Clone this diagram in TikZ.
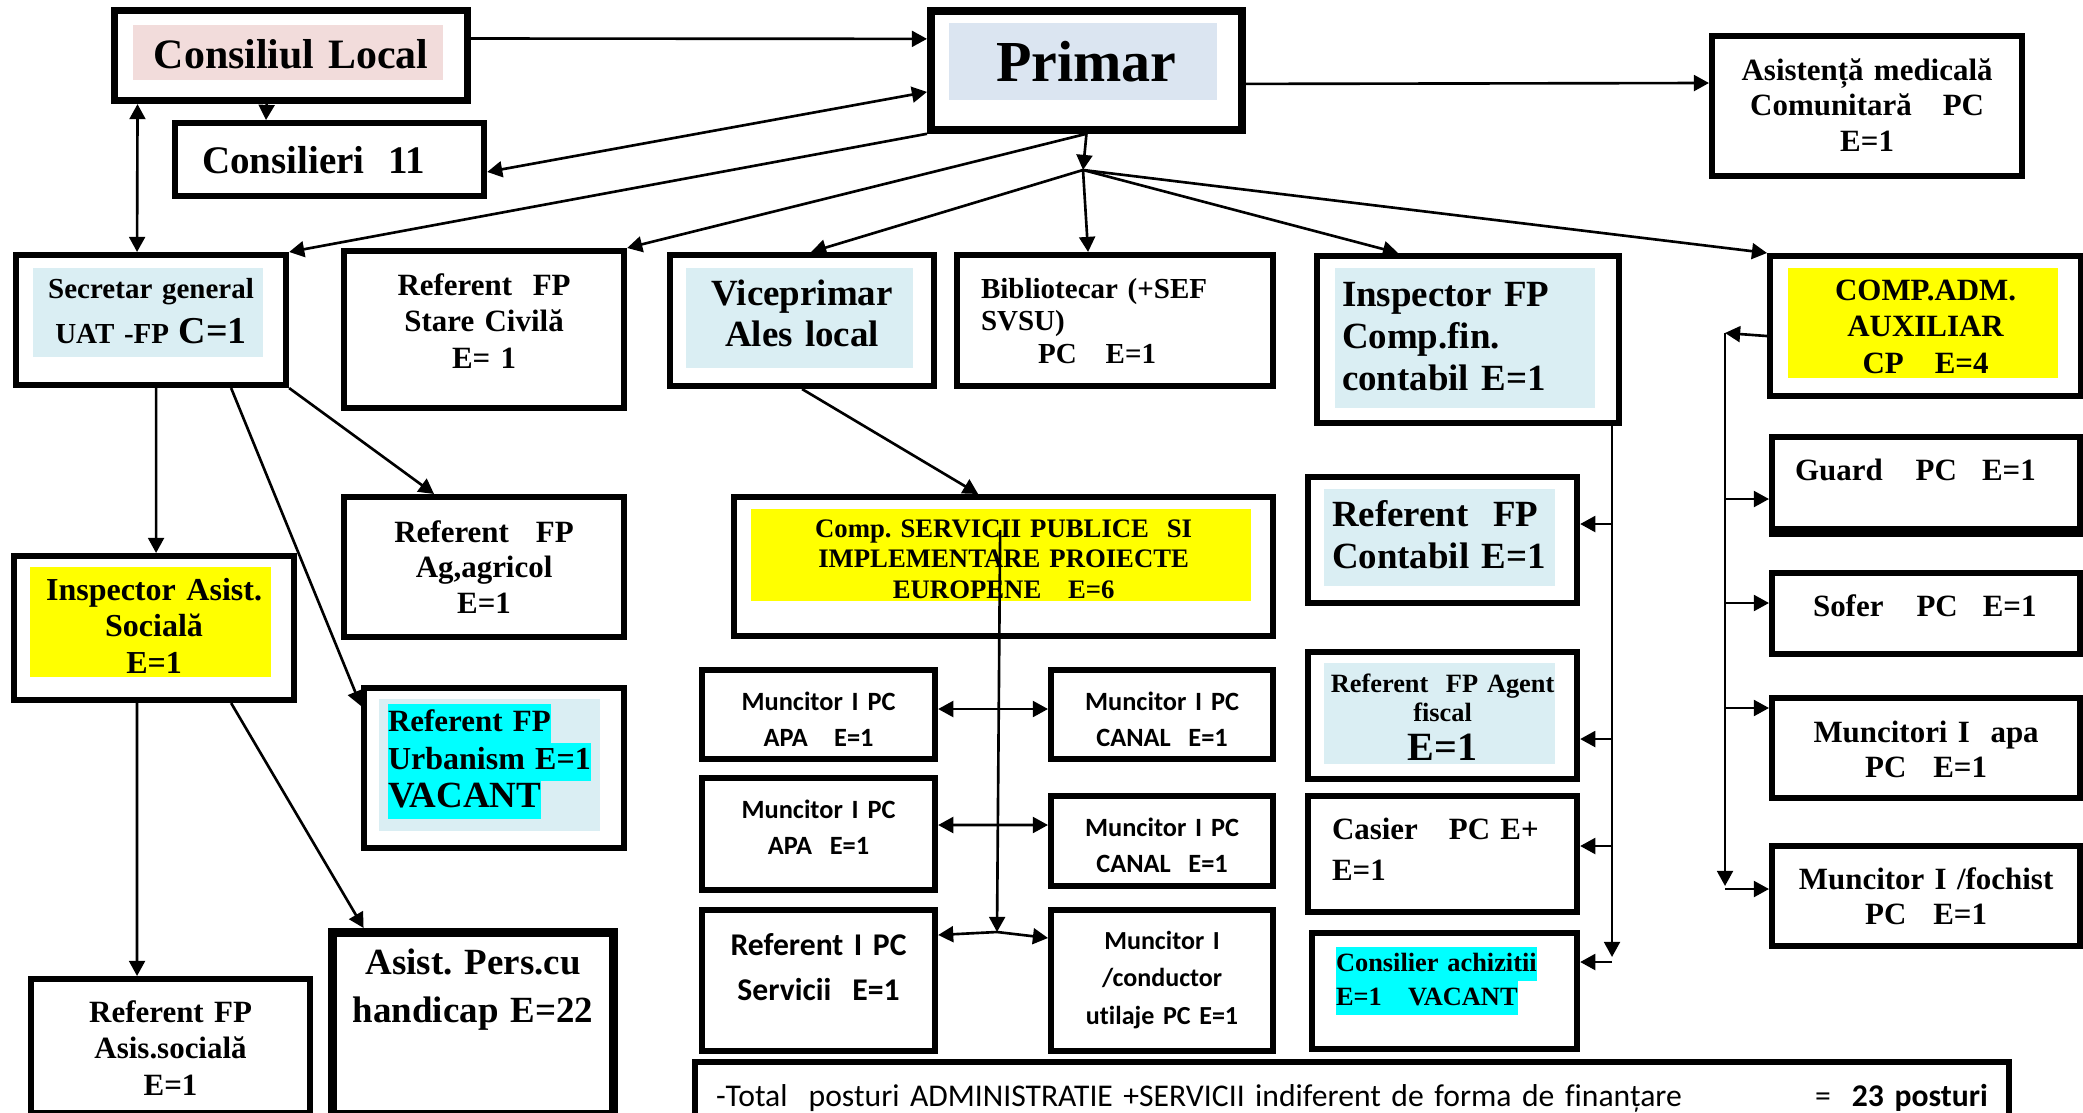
\documentclass[tikz,border=0pt]{standalone}
\usepackage{fontspec}
\setmainfont{Liberation Serif}
\newfontfamily\calfont[Ligatures=NoCommon]{Carlito}
\usetikzlibrary{arrows.meta}
\definecolor{pinkbg}{HTML}{F2DCDB}
\definecolor{primbg}{HTML}{DBE5F1}
\definecolor{bluebg}{HTML}{DAEEF3}
\definecolor{hlyellow}{HTML}{FFFF00}
\definecolor{hlcyan}{HTML}{00FFFF}
\setlength{\fboxsep}{0pt}
\frenchspacing
\newcommand{\fsz}[2]{\fontsize{#1}{#2}\selectfont}

\begin{document}
\begin{tikzpicture}[x=0.01cm,y=0.01cm]
\tikzstyle{box}=[draw=black, line width=1.7pt, inner xsep=0pt, inner ysep=0pt, anchor=north west, align=center]
\tikzstyle{arr}=[line width=0.75pt, -{Triangle[length=4.3pt,width=4.5pt]}]
\tikzstyle{dbl}=[line width=0.75pt, {Triangle[length=4.3pt,width=4.5pt]}-{Triangle[length=4.3pt,width=4.5pt]}]
\useasboundingbox (0,0) rectangle (2083,-1113);
% inner fills
\fill [pinkbg] (133,-25) rectangle (443,-80);
\fill [primbg] (949,-23) rectangle (1217,-100);
\fill [bluebg] (33,-268) rectangle (263,-357);
\fill [bluebg] (686,-268) rectangle (913,-368);
\fill [bluebg] (1335,-268) rectangle (1595,-408);
\fill [hlyellow] (1788,-268) rectangle (2058,-378);
\fill [hlyellow] (30,-567) rectangle (271,-677);
\fill [bluebg] (379,-699) rectangle (600,-831);
\fill [hlyellow] (751,-509) rectangle (1251,-601);
\fill [bluebg] (1324,-489) rectangle (1555,-586);
\fill [bluebg] (1324,-663) rectangle (1555,-764);
% top row
\node [box, line width=2pt, text width=3.53cm, text height=0.58cm, text depth=0.32cm, font={\bfseries\fsz{11.9pt}{14pt}}] (cl) at (111,-7) {Consiliul Local};
\node [box, align=left, inner xsep=0.27cm, text width=2.55cm, text height=0.50cm, text depth=0.23cm, font={\bfseries\fsz{11.1pt}{13pt}}] (cons) at (172,-120) {Consilieri\hspace{0.235cm}11};
\node [box, line width=2.2pt, text width=3.11cm, text height=0.71cm, text depth=0.48cm, font={\bfseries\fsz{16.5pt}{19pt}}] (prim) at (927,-7) {Primar};
\node [box, text width=3.10cm, text height=0.44cm, text depth=0.96cm, font={\bfseries\fsz{8.8pt}{10.2pt}}] (asis) at (1709,-33) {Asistență medicală\\Comunitară\quad PC\\E=1};
% second row
\node [box, text width=2.70cm, text height=0.43cm, text depth=0.87cm, font={\bfseries\fsz{8.25pt}{12.8pt}}] (sec) at (13,-252) {Secretar general\\UAT -FP {\fsz{10.8pt}{12.8pt}C=1}};
\node [box, text width=2.80cm, text height=0.44cm, text depth=1.13cm, font={\bfseries\fsz{8.8pt}{10.4pt}}] (stc) at (341,-248) {Referent\ \ FP\\Stare Civilă\\E= 1};
\node [box, text width=2.64cm, text height=0.50cm, text depth=0.81cm, font={\bfseries\fsz{10.5pt}{11.7pt}}] (vice) at (667,-252) {Viceprimar\\Ales local};
\node [box, align=left, inner xsep=0.24cm, text width=2.68cm, text height=0.43cm, text depth=0.88cm, font={\bfseries\fsz{8.25pt}{9.25pt}}] (bib) at (954,-252) {Bibliotecar (+SEF\\SVSU)\\\hspace*{0.57cm}PC\quad E=1};
\node [box, align=left, inner xsep=0.25cm, text width=2.52cm, text height=0.50cm, text depth=1.17cm, font={\bfseries\fsz{10.5pt}{12pt}}] (insp) at (1314,-253) {Inspector FP\\Comp.fin.\\contabil E=1};
\node [box, text width=3.11cm, text height=0.44cm, text depth=0.96cm, font={\bfseries\fsz{8.8pt}{10.4pt}}] (comp) at (1767,-253) {COMP.ADM.\\AUXILIAR\\CP\quad E=4};
% left branch
\node [box, text width=2.80cm, text height=0.45cm, text depth=0.95cm, font={\bfseries\fsz{8.8pt}{10.2pt}}] (agr) at (341,-494) {Referent\hspace{0.27cm}FP\\Ag,agricol\\E=1};
\node [box, text width=2.80cm, text height=0.44cm, text depth=1.00cm, font={\bfseries\fsz{9.1pt}{10.4pt}}] (asoc) at (11,-553) {Inspector Asist.\\Socială\\E=1};
\node [box, align=left, inner xsep=0.24cm, text width=2.12cm, text height=0.43cm, text depth=1.17cm, font={\bfseries\fsz{8.8pt}{10.9pt}}] (urb) at (361,-685) {\colorbox{hlcyan}{\strut Referent FP}\\\colorbox{hlcyan}{\fsz{9.1pt}{10.9pt}\strut Urbanism E=1}\\\colorbox{hlcyan}{\fsz{10.5pt}{10.9pt}\strut VACANT}};
\node [box, line width=2.6pt, text width=2.81cm, text height=0.42cm, text depth=1.40cm, font={\bfseries\fsz{10.5pt}{13.6pt}}] (apers) at (328,-928) {Asist. Pers.cu\\handicap E=22};
\node [box, text width=2.79cm, text height=0.43cm, text depth=0.91cm, font={\bfseries\fsz{8.8pt}{10.5pt}}] (rasoc) at (28,-976) {Referent FP\\Asis.socială\\E=1};
% public services
\node [box, text width=5.39cm, text height=0.40cm, text depth=0.99cm, font={\bfseries\fsz{7.6pt}{8.8pt}}] (spub) at (731,-494) {Comp. SERVICII PUBLICE\ \ SI\\IMPLEMENTARE PROIECTE\\EUROPENE\ \ \ E=6};
\node [box, text width=2.33cm, text height=0.40cm, text depth=0.49cm, font={\calfont\bfseries\fsz{7.5pt}{10.5pt}}] (apa1) at (699,-667) {Muncitor I PC\\APA\ \ \ E=1};
\node [box, text width=2.22cm, text height=0.40cm, text depth=0.49cm, font={\calfont\bfseries\fsz{7.5pt}{10.5pt}}] (can1) at (1048,-667) {Muncitor I PC\\CANAL\ \ E=1};
\node [box, text width=2.33cm, text height=0.40cm, text depth=0.72cm, font={\calfont\bfseries\fsz{7.5pt}{10.5pt}}] (apa2) at (699,-775) {Muncitor I PC\\APA\ \ E=1};
\node [box, text width=2.22cm, text height=0.40cm, text depth=0.50cm, font={\calfont\bfseries\fsz{7.5pt}{10.5pt}}] (can2) at (1048,-793) {Muncitor I PC\\CANAL\ \ E=1};
\node [box, text width=2.33cm, text height=0.45cm, text depth=0.96cm, font={\calfont\bfseries\fsz{9pt}{12.8pt}}] (refI) at (699,-907) {Referent I PC\\Servicii\ \ E=1};
\node [box, text width=2.22cm, text height=0.39cm, text depth=1.02cm, font={\calfont\bfseries\fsz{7.4pt}{10.7pt}}] (cond) at (1048,-907) {Muncitor I\\/conductor\\utilaje PC E=1};
% financial column
\node [box, align=left, inner xsep=0.24cm, text width=2.21cm, text height=0.49cm, text depth=0.77cm, font={\bfseries\fsz{10.5pt}{12.2pt}}] (rcont) at (1305,-474) {Referent\ \ FP\\Contabil E=1};
\node [box, text width=2.69cm, text height=0.40cm, text depth=0.87cm, font={\bfseries\fsz{7.5pt}{8.25pt}}] (agf) at (1305,-649) {Referent\ \ FP Agent\\fiscal\\[2.85pt]{\fsz{11.4pt}{11pt}E=1}};
\node [box, align=left, inner xsep=0.24cm, text width=2.21cm, text height=0.43cm, text depth=0.73cm, font={\bfseries\fsz{8.8pt}{11.7pt}}] (cas) at (1305,-793) {Casier\ \ \ PC E+\\E=1};
\node [box, align=left, inner xsep=0.24cm, text width=2.17cm, text height=0.38cm, text depth=0.78cm, font={\bfseries\fsz{7.5pt}{9.7pt}}] (achiz) at (1309,-930) {\colorbox{hlcyan}{\strut Consilier achizitii}\\\colorbox{hlcyan}{\strut E=1\ \ \ VACANT}};
% auxiliary column
\node [box, align=left, inner xsep=0.23cm, text width=2.62cm, text height=0.43cm, text depth=0.49cm, font={\bfseries\fsz{8.8pt}{10.2pt}}] (guard) at (1769,-434) {Guard\hspace{0.33cm}PC\hspace{0.25cm}E=1};
\node [box, align=left, inner xsep=0.23cm, text width=2.62cm, text height=0.43cm, text depth=0.38cm, font={\bfseries\fsz{8.8pt}{10.2pt}}] (sofer) at (1769,-570) {\hspace*{0.18cm}Sofer\hspace{0.33cm}PC\hspace{0.25cm}E=1};
\node [box, text width=3.08cm, text height=0.44cm, text depth=0.56cm, font={\bfseries\fsz{8.8pt}{10.2pt}}] (mapa) at (1769,-695) {Muncitori I\ \ apa\\PC\hspace{0.27cm}E=1};
\node [box, text width=3.08cm, text height=0.43cm, text depth=0.57cm, font={\bfseries\fsz{8.8pt}{10.2pt}}] (foch) at (1769,-843) {Muncitor I /fochist\\PC\hspace{0.27cm}E=1};
\draw [line width=3pt] (guard.south west) -- (guard.south east);
% total
\node [box, align=left, inner xsep=0.21cm, text width=12.71cm, text height=0.44cm, text depth=0.45cm, font={\calfont\fsz{9pt}{11pt}}] (total) at (692,-1059) {-Total\ \ posturi ADMINISTRATIE +SERVICII indiferent de forma de finanțare\hfill=\ \ \textbf{23 posturi}\hspace*{0.36cm}};
% connectors from the top
\coordinate (jct) at (1083,-170);
\draw [arr] ([yshift=0.17cm]cl.east) -- ([yshift=0.315cm]prim.west);
\draw [arr] ([xshift=-0.245cm]cl.south) -- ([xshift=-0.635cm]cons.north);
\draw [dbl] ([xshift=-1.535cm]cl.south) -- ([xshift=-0.14cm]sec.north);
\draw [dbl] ([yshift=-0.125cm]cons.east) -- ([yshift=-0.215cm]prim.west);
\draw [arr] (prim.south west) -- (sec.north east);
\draw [arr] (prim.south) -- (stc.north east);
\draw [arr] (prim.south) -- (jct);
\draw [arr] (jct) -- ([xshift=0.09cm]vice.north);
\draw [arr] (jct) -- ([xshift=-0.27cm]bib.north);
\draw [arr] (jct) -- ([xshift=-0.70cm]insp.north);
\draw [arr] (jct) -- (comp.north west);
\draw [arr] ([yshift=-0.135cm]prim.east) -- ([yshift=0.23cm]asis.west);
% secretar
\draw [arr] ([xshift=0.05cm]sec.south) -- ([xshift=0.02cm]asoc.north);
\draw [arr] ([xshift=0.80cm]sec.south) -- ([yshift=0.62cm]urb.west);
\draw [arr] (sec.south east) -- ([xshift=-0.50cm]agr.north);
\draw [arr] ([xshift=-0.17cm]asoc.south) -- ([xshift=-0.335cm]rasoc.north);
\draw [arr] ([xshift=0.77cm]asoc.south) -- ([xshift=-1.095cm]apers.north);
% viceprimar and services
\coordinate (sv) at (997,-932);
\draw [arr] (vice.south) -- ([xshift=-0.255cm]spub.north);
\draw [arr] ([xshift=-0.035cm,yshift=-0.36cm]spub.north) -- (sv);
\draw [dbl] ([yshift=0.055cm]apa1.east) -- ([yshift=0.055cm]can1.west);
\draw [dbl] ([yshift=0.09cm]apa2.east) -- ([yshift=0.16cm]can2.west);
\draw [arr] (sv) -- ([yshift=0.455cm]refI.east);
\draw [arr] (sv) -- ([yshift=0.425cm]cond.west);
% auxiliary
\coordinate (rt) at (1725,-333);
\coordinate (rb) at (1725,-886);
\draw [arr] ([yshift=-0.10cm]comp.west) -- (rt);
\draw [arr] (rt) -- (rb);
\coordinate (g1) at ([yshift=-0.16cm]guard.west);
\coordinate (g2) at ([yshift=0.105cm]sofer.west);
\coordinate (g3) at ([yshift=0.40cm]mapa.west);
\coordinate (g4) at ([yshift=0.07cm]foch.west);
\draw [arr] (g1 -| rt) -- (g1);
\draw [arr] (g2 -| rt) -- (g2);
\draw [arr] (g3 -| rt) -- (g3);
\draw [arr] (g4 -| rt) -- (g4);
% financial
\coordinate (lb) at (1612,-957);
\draw [arr] (lb |- insp.south) -- (lb);
\coordinate (h1) at ([yshift=0.16cm]rcont.east);
\coordinate (h2) at ([yshift=-0.235cm]agf.east);
\coordinate (h3) at ([yshift=0.08cm]cas.east);
\coordinate (h4) at ([yshift=0.29cm]achiz.east);
\draw [arr] (h1 -| lb) -- (h1);
\draw [arr] (h2 -| lb) -- (h2);
\draw [arr] (h3 -| lb) -- (h3);
\draw [arr] (h4 -| lb) -- (h4);
\end{tikzpicture}
\end{document}
